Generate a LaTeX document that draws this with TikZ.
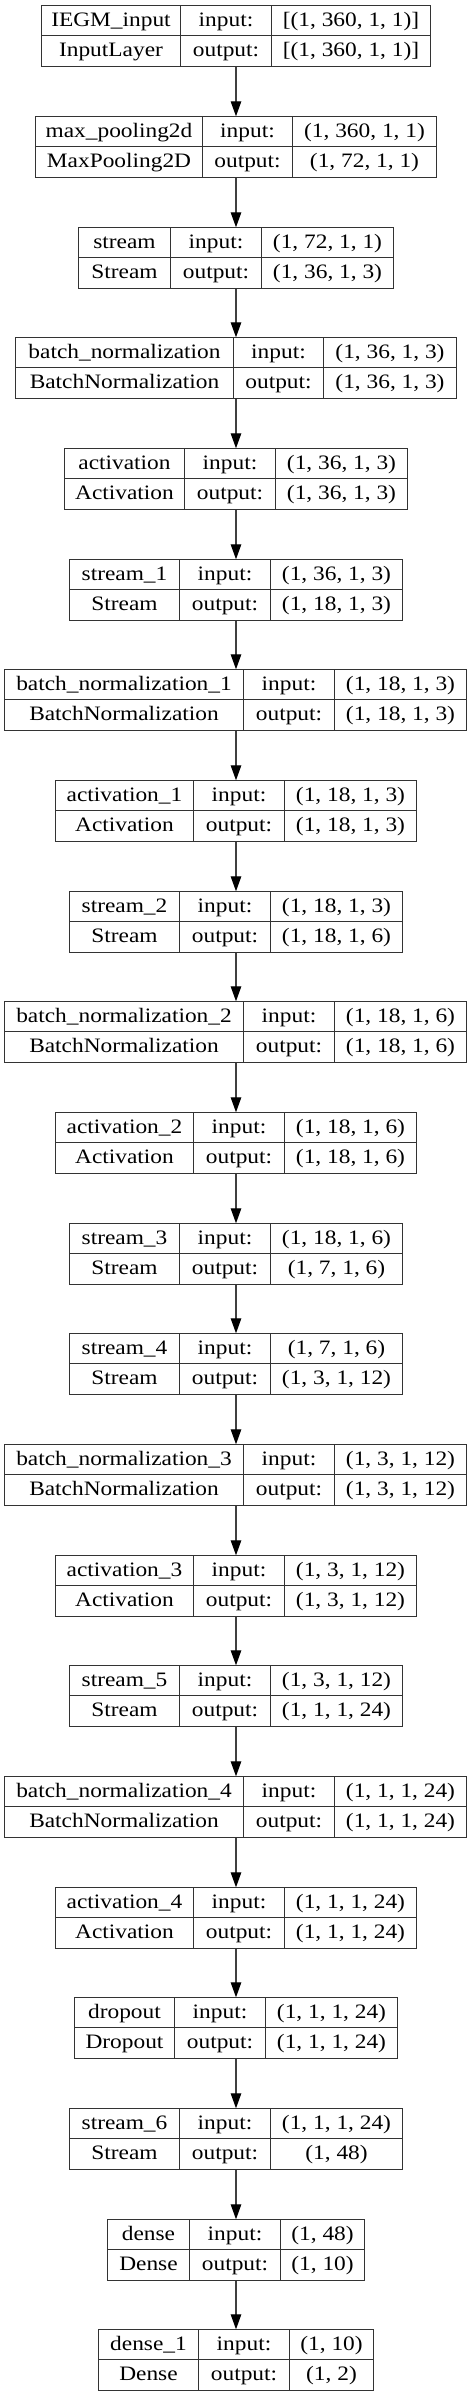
\documentclass[tikz,border=0pt]{standalone}
\usepackage{fontspec}
\setmainfont{Liberation Serif}[FakeStretch=1.14]
\usetikzlibrary{arrows.meta,fit}
\tikzset{
  txt/.style={font=\fontsize{20.5bp}{24bp}\selectfont, inner sep=0pt, anchor=base, text=black},
  boxst/.style={inner sep=0pt},
  cellline/.style={draw=black!80, line width=1.1bp},
  arr/.style={draw=black!75, line width=1.2bp, -{Triangle[length=15bp,width=10.5bp,color=black]}}
}
% #1 index, #2 left, #3 div1, #4 div2, #5 right, #6 name, #7 class, #8 input, #9 output
\newcommand\layerbox[9]{%
  \pgfmathsetmacro\yt{-(floor(5.7+#1*110.68)+0.5)}%
  \pgfmathsetmacro\yb{\yt-61}%
  \pgfmathsetmacro\ym{\yt-30}%
  \pgfmathsetmacro\xl{floor(#2)+0.5}%
  \pgfmathsetmacro\xa{floor(#3)+0.5}%
  \pgfmathsetmacro\xb{floor(#4)+0.5}%
  \pgfmathsetmacro\xr{floor(#5)+0.5}%
  \coordinate (tl#1) at (\xl,\yt);
  \coordinate (br#1) at (\xr,\yb);
  \node[boxst, fit=(tl#1)(br#1)] (b#1) {};
  \draw[cellline] (tl#1) rectangle (br#1);
  \draw[cellline] (\xl,\ym) -- (\xr,\ym);
  \draw[cellline] (\xa,\yt) -- (\xa,\yb);
  \draw[cellline] (\xb,\yt) -- (\xb,\yb);
  \node[txt] (b#1n) at ({(\xl+\xa)/2},\yt-20.6) {#6};
  \node[txt] (b#1c) at ({(\xl+\xa)/2},\ym-20.6) {#7};
  \node[txt] (b#1il) at ({(\xa+\xb)/2},\yt-20.6) {input:};
  \node[txt] (b#1ol) at ({(\xa+\xb)/2},\ym-20.6) {output:};
  \node[txt] (b#1i) at ({(\xb+\xr)/2},\yt-20.6) {#8};
  \node[txt] (b#1o) at ({(\xb+\xr)/2},\ym-20.6) {#9};
}
\begin{document}
\begin{tikzpicture}[x=1bp,y=1bp]
\useasboundingbox[fill=white] (0,0) rectangle (472,-2397);
\layerbox{0}{41.7}{180.3}{271.3}{430}{IEGM\_input}{InputLayer}{[(1, 360, 1, 1)]}{[(1, 360, 1, 1)]}
\layerbox{1}{35}{202}{292.7}{436.7}{max\_pooling2d}{MaxPooling2D}{(1, 360, 1, 1)}{(1, 72, 1, 1)}
\layerbox{2}{78.7}{170.3}{261.3}{393.3}{stream}{Stream}{(1, 72, 1, 1)}{(1, 36, 1, 3)}
\layerbox{3}{15.7}{233.3}{323.7}{456}{batch\_normalization}{BatchNormalization}{(1, 36, 1, 3)}{(1, 36, 1, 3)}
\layerbox{4}{64.7}{184.3}{275.3}{407}{activation}{Activation}{(1, 36, 1, 3)}{(1, 36, 1, 3)}
\layerbox{5}{69}{179.7}{270.7}{402.7}{stream\_1}{Stream}{(1, 36, 1, 3)}{(1, 18, 1, 3)}
\layerbox{6}{4.7}{243.7}{334.3}{466.7}{batch\_normalization\_1}{BatchNormalization}{(1, 18, 1, 3)}{(1, 18, 1, 3)}
\layerbox{7}{55}{193.7}{284.3}{416.7}{activation\_1}{Activation}{(1, 18, 1, 3)}{(1, 18, 1, 3)}
\layerbox{8}{69}{179.7}{270.7}{402.7}{stream\_2}{Stream}{(1, 18, 1, 3)}{(1, 18, 1, 6)}
\layerbox{9}{4.7}{243.7}{334.3}{466.7}{batch\_normalization\_2}{BatchNormalization}{(1, 18, 1, 6)}{(1, 18, 1, 6)}
\layerbox{10}{55}{193.7}{284.3}{416.7}{activation\_2}{Activation}{(1, 18, 1, 6)}{(1, 18, 1, 6)}
\layerbox{11}{69}{179.7}{270.7}{402.7}{stream\_3}{Stream}{(1, 18, 1, 6)}{(1, 7, 1, 6)}
\layerbox{12}{69}{179.7}{270.7}{402.7}{stream\_4}{Stream}{(1, 7, 1, 6)}{(1, 3, 1, 12)}
\layerbox{13}{4.7}{243.7}{334.3}{466.7}{batch\_normalization\_3}{BatchNormalization}{(1, 3, 1, 12)}{(1, 3, 1, 12)}
\layerbox{14}{55}{193.7}{284.3}{416.7}{activation\_3}{Activation}{(1, 3, 1, 12)}{(1, 3, 1, 12)}
\layerbox{15}{69}{179.7}{270.7}{402.7}{stream\_5}{Stream}{(1, 3, 1, 12)}{(1, 1, 1, 24)}
\layerbox{16}{4.7}{243.7}{334.3}{466.7}{batch\_normalization\_4}{BatchNormalization}{(1, 1, 1, 24)}{(1, 1, 1, 24)}
\layerbox{17}{55}{193.7}{284.3}{416.7}{activation\_4}{Activation}{(1, 1, 1, 24)}{(1, 1, 1, 24)}
\layerbox{18}{74.3}{174.3}{265.3}{397.3}{dropout}{Dropout}{(1, 1, 1, 24)}{(1, 1, 1, 24)}
\layerbox{19}{69}{179.7}{270.5}{402.7}{stream\_6}{Stream}{(1, 1, 1, 24)}{(1, 48)}
\layerbox{20}{107.7}{189.3}{280}{364}{dense}{Dense}{(1, 48)}{(1, 10)}
\layerbox{21}{98.7}{198.7}{289.3}{373.3}{dense\_1}{Dense}{(1, 10)}{(1, 2)}
\foreach \i [evaluate=\i as \j using int(\i+1)] in {0,...,20} {
  \draw[arr] (236,0 |- b\i.south) -- (236,0 |- b\j.north);
}
\end{tikzpicture}
\end{document}
